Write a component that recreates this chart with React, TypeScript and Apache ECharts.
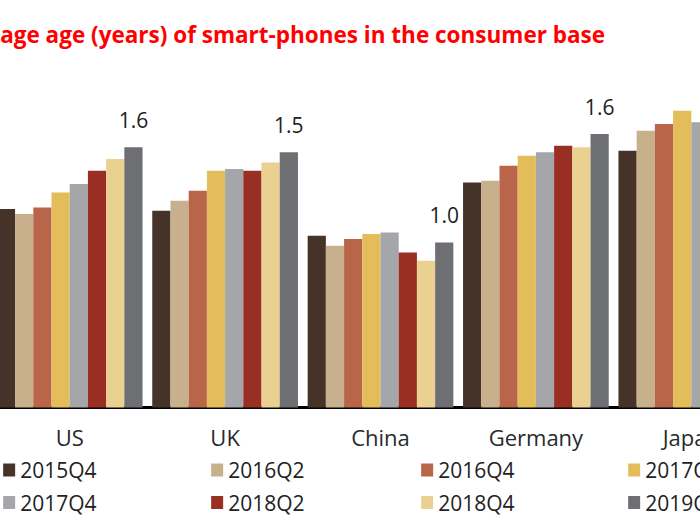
import React, { useEffect, useRef } from "react";
import * as echarts from "echarts";

const titleText = "age age (years) of smart-phones in the consumer base";
const categories = ["US", "UK", "China", "Germany", "Japan"];
const seriesNames = ["2015Q4", "2016Q2", "2016Q4", "2017Q2", "2017Q4", "2018Q2", "2018Q4", "2019Q2"];

const v2015Q4 = [1.19, 1.18, 1.03, 1.35, 1.54];
const v2016Q2 = [1.16, 1.24, 0.97, 1.36, 1.66];
const v2016Q4 = [1.2, 1.3, 1.01, 1.45, 1.7];
const v2017Q2 = [1.29, 1.42, 1.04, 1.51, 1.78];
const v2017Q4 = [1.34, 1.43, 1.05, 1.53, 1.71];
const v2018Q2 = [1.42, 1.42, 0.93, 1.57, 1.75];
const v2018Q4 = [1.49, 1.47, 0.88, 1.56, 1.78];
const v2019Q2 = [1.56, 1.53, 0.99, 1.64, 1.85];
const seriesValues = [v2015Q4, v2016Q2, v2016Q4, v2017Q2, v2017Q4, v2018Q2, v2018Q4, v2019Q2];

// categories whose last-period bar carries a value label
const labelledCategories = ["US", "UK", "China", "Germany"];

const legendColumns = [
  ["2015Q4", "2017Q4"],
  ["2016Q2", "2018Q2"],
  ["2016Q4", "2018Q4"],
  ["2017Q2", "2019Q2"],
];

const colors = ["#453228", "#C9B08C", "#B9654A", "#E3BD5A", "#A5A6AA", "#992E22", "#EBD191", "#6E6F73"];
const FONT = "Open Sans";
// the chart is wider than the window and shifted left, as in the cropped reference
const SHIFT = 8.15;
const CHART_W = 776.5;
const legendLefts = [3, 211, 421, 628].map((x) => x + SHIFT);

export default function App() {
  const ref = useRef<HTMLDivElement>(null);

  useEffect(() => {
    if (!ref.current) return;
    const chart = echarts.init(ref.current, null, { renderer: "svg" });
    const last = seriesNames.length - 1;
    const option: any = {
      animation: false,
      backgroundColor: "#ffffff",
      color: colors,
      title: {
        text: titleText,
        left: SHIFT,
        top: 21,
        padding: 0,
        textStyle: { color: "#FF0000", fontFamily: FONT, fontWeight: "bold", fontSize: 22.5, lineHeight: 26 },
      },
      grid: { left: 0, right: 0, top: 74, bottom: 117.5, containLabel: false },
      xAxis: {
        type: "category",
        data: categories,
        axisLine: { show: true, lineStyle: { color: "#000000", width: 3 } },
        axisTick: { show: false },
        axisLabel: { color: "#2a2a2a", fontFamily: FONT, fontSize: 22, lineHeight: 22, margin: 18 },
      },
      yAxis: { type: "value", min: 0, max: 2, show: false, splitLine: { show: false } },
      legend: legendColumns.map((col, i) => ({
        data: col.map((name) => ({ name, icon: "rect" })),
        orient: "vertical",
        left: legendLefts[i],
        top: 459,
        padding: 0,
        itemWidth: 12,
        itemHeight: 13,
        itemGap: 10.5,
        textStyle: { color: "#222222", fontFamily: FONT, fontSize: 21, lineHeight: 22 },
      })),
      series: seriesNames.map((name, si) => ({
        name,
        type: "bar",
        barGap: "0%",
        barCategoryGap: "6.25%",
        data: seriesValues[si].map((v, ci) => ({
          value: v,
          label: {
            show: si === last && labelledCategories.includes(categories[ci]),
          },
        })),
        label: {
          position: "top",
          distance: 17,
          color: "#222222",
          fontFamily: FONT,
          fontSize: 21,
          lineHeight: 21,
          formatter: (p: any) => Number(p.value).toFixed(1),
        },
      })),
    };
    chart.setOption(option);
    return () => chart.dispose();
  }, []);

  return (
    <div style={{ position: "absolute", left: 0, top: 0, width: 700, height: 525, overflow: "hidden" }}>
      <div
        ref={ref}
        style={{ position: "absolute", left: -SHIFT, top: 0, width: CHART_W, height: 525 }}
      />
    </div>
  );
}
